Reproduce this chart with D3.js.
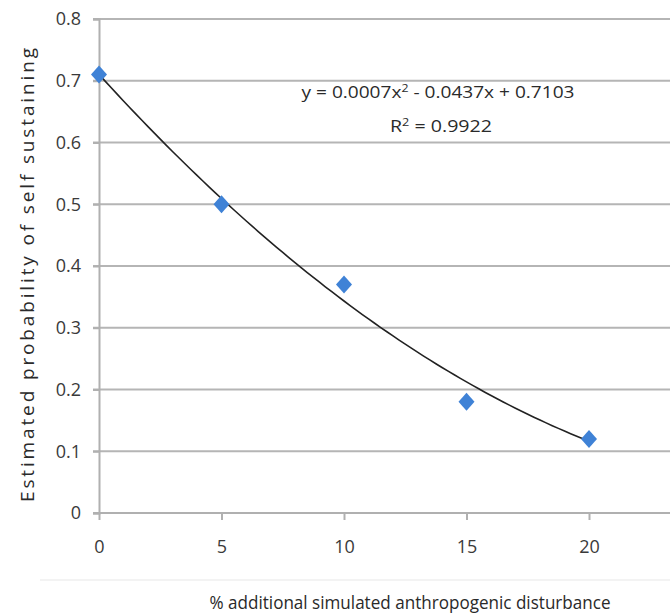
<!DOCTYPE html>
<html>
<head>
<meta charset="UTF-8">
<title>Self sustaining probability</title>
<script src="https://d3js.org/d3.v7.min.js"></script>
<style>
    * { margin: 0; padding: 0; }
    body { background: #fff; }
    .tick text { font-family: "Open Sans", sans-serif; font-size: 18px; fill: #3a3a3a; }
    .grid line { stroke: #b5b5b5; stroke-width: 2px; }
    .eq { font-family: "Open Sans", sans-serif; font-size: 17px; fill: #2a2a2a; }
</style>
</head>
<body>
<svg id="main" width="670" height="616"></svg>
<script>
// data
const disturbance = [0, 5, 10, 15, 20];
const probability = [0.71, 0.50, 0.37, 0.18, 0.12];
const fitCoef = [0.0007, -0.0437, 0.7103]; // a, b, c from the trendline label
const xTicks = [0, 5, 10, 15, 20];
const yTicks = [0, 0.1, 0.2, 0.3, 0.4, 0.5, 0.6, 0.7, 0.8];

const svg = d3.select("#main");

const x = d3.scaleLinear().domain([0, 25]).range([99, 711.5]);
const y = d3.scaleLinear().domain([0, 0.8]).range([513, 19]);

// horizontal gridlines
svg.append("g").attr("class", "grid")
    .selectAll("line")
    .data(yTicks.slice(1))
    .enter().append("line")
    .attr("x1", 93).attr("x2", 670)
    .attr("y1", d => y(d)).attr("y2", d => y(d));

// y axis
const yAxis = svg.append("g")
    .attr("transform", "translate(99,0)")
    .call(d3.axisLeft(y).tickValues(yTicks).tickFormat(d => d === 0 ? "0" : d3.format(".1f")(d)).tickSize(6).tickPadding(12));
yAxis.selectAll("path, line").attr("stroke", "#b0b0b0").attr("stroke-width", 2);

// x axis
const xAxis = svg.append("g")
    .attr("transform", "translate(0,513)")
    .call(d3.axisBottom(x).tickValues(xTicks).tickSize(7).tickPadding(20));
xAxis.select("path").attr("d", "M93,0H670");
xAxis.selectAll("path, line").attr("stroke", "#b0b0b0").attr("stroke-width", 2);

// faint separator
svg.append("line").attr("x1", 40).attr("x2", 670).attr("y1", 580).attr("y2", 580)
    .attr("stroke", "#f3f3f3").attr("stroke-width", 2);

// trendline
const poly = t => fitCoef[0] * t * t + fitCoef[1] * t + fitCoef[2];
const curve = d3.range(0, 20.01, 0.25).map(t => [t, poly(t)]);
svg.append("path")
    .datum(curve)
    .attr("fill", "none")
    .attr("stroke", "#222")
    .attr("stroke-width", 1.6)
    .attr("d", d3.line().x(d => x(d[0])).y(d => y(d[1])));

// markers
svg.append("g").selectAll("path")
    .data(disturbance.map((d, i) => [d, probability[i]]))
    .enter().append("path")
    .attr("transform", d => `translate(${x(d[0])},${y(d[1])})`)
    .attr("d", "M0,-9L8,0L0,9L-8,0Z")
    .attr("fill", "#3f82d6");

// equation
const eq = svg.append("text").attr("class", "eq").attr("x", 438).attr("y", 98).attr("text-anchor", "middle")
    .attr("textLength", 273).attr("lengthAdjust", "spacingAndGlyphs");
eq.append("tspan").text("y = 0.0007x");
eq.append("tspan").attr("dy", -6).attr("font-size", 11).text("2");
eq.append("tspan").attr("dy", 6).text(" - 0.0437x + 0.7103");
const r2 = svg.append("text").attr("class", "eq").attr("x", 441).attr("y", 132).attr("text-anchor", "middle")
    .attr("textLength", 102).attr("lengthAdjust", "spacingAndGlyphs");
r2.append("tspan").text("R");
r2.append("tspan").attr("dy", -6).attr("font-size", 11).text("2");
r2.append("tspan").attr("dy", 6).text(" = 0.9922");

// axis titles
svg.append("text")
    .attr("transform", "translate(34,275) rotate(-90)")
    .attr("text-anchor", "middle")
    .attr("font-family", "Open Sans, sans-serif")
    .attr("font-size", 19)
    .attr("fill", "#2a2a2a")
    .attr("textLength", 454)
    .attr("lengthAdjust", "spacing")
    .text("Estimated probability of self sustaining");

svg.append("text")
    .attr("x", 410).attr("y", 609)
    .attr("text-anchor", "middle")
    .attr("font-family", "Open Sans, sans-serif")
    .attr("font-size", 18)
    .attr("fill", "#2a2a2a")
    .attr("textLength", 401)
    .attr("lengthAdjust", "spacingAndGlyphs")
    .text("% additional simulated anthropogenic disturbance");
</script>
</body>
</html>
